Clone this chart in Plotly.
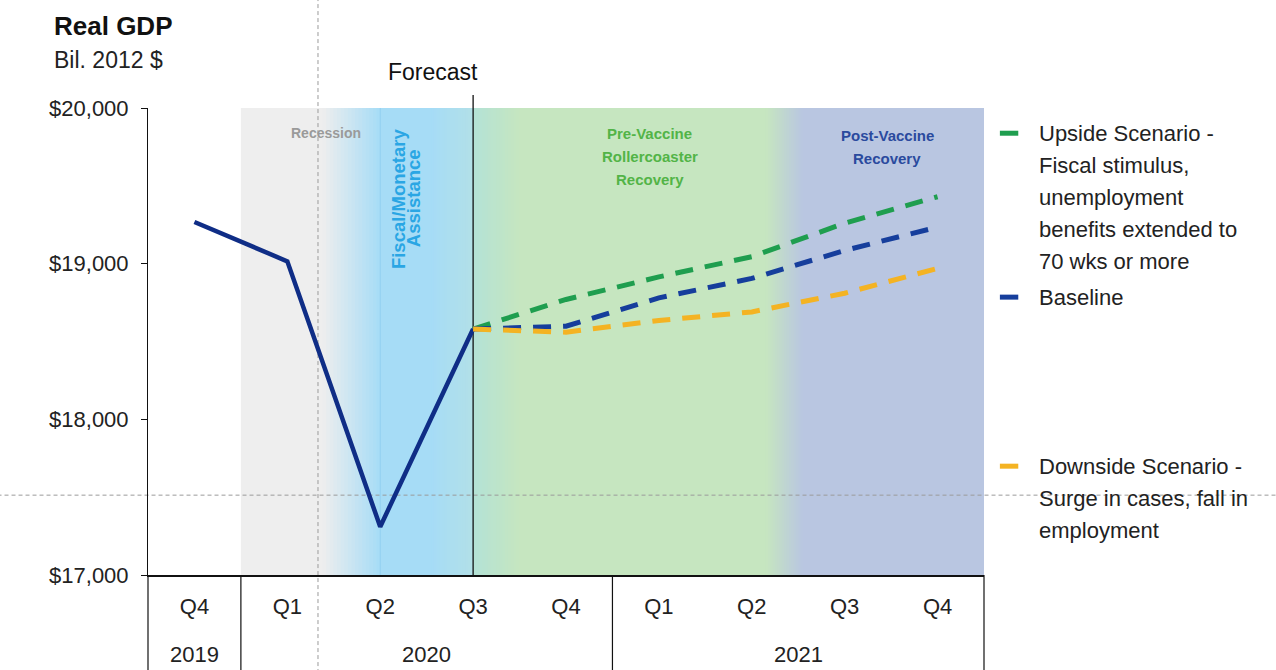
import plotly.graph_objects as go

# ---------------- data ----------------
quarters = ["Q4", "Q1", "Q2", "Q3", "Q4", "Q1", "Q2", "Q3", "Q4"]
years = ["2019", "2020", "2021"]
year_centers = [0, 2.5, 6.5]
year_dividers = [-0.5, 0.5, 4.5, 8.5]

hist_x = [0, 1, 2, 3]
hist_gdp = [19268, 19015, 17310, 18580]

fc_x = [3, 4, 5, 6, 7, 8]
upside = [18580, 18770, 18915, 19045, 19260, 19430]
baseline = [18580, 18598, 18780, 18905, 19085, 19235]
downside = [18580, 18560, 18635, 18690, 18810, 18970]

yticks = [17000, 18000, 19000, 20000]
yticklabels = ["${:,}".format(v) for v in yticks]

FONT = "Liberation Sans, Arial, sans-serif"
NAVY = "#0f2d86"
GREEN = "#1f9e4f"
BLUE = "#163e9c"
ORANGE = "#f4b323"

X0, X1 = -0.5, 8.5


def px(xd):
    return (xd - X0) / (X1 - X0)


fig = go.Figure()
fig.add_trace(go.Scatter(x=hist_x, y=hist_gdp, mode="lines",
                         line=dict(color=NAVY, width=4.5), showlegend=False))
for ys, c in [(upside, GREEN), (baseline, BLUE), (downside, ORANGE)]:
    fig.add_trace(go.Scatter(x=fc_x, y=ys, mode="lines",
                             line=dict(color=c, width=5, dash="18px,12px"),
                             showlegend=False))

# ---------------- background gradient bands ----------------
def hex2rgb(h):
    h = h.lstrip("#")
    return tuple(int(h[i:i + 2], 16) for i in (0, 2, 4))


def band(stops, n=16):
    shapes = []
    xend = stops[-1][0]
    for (xa, ca), (xb, cb) in zip(stops[:-1], stops[1:]):
        if ca == cb:
            shapes.append(dict(type="rect", xref="x", yref="paper", x0=xa, x1=xend,
                               y0=0, y1=1, fillcolor=ca, line_width=0, layer="below"))
            continue
        ra, rb = hex2rgb(ca), hex2rgb(cb)
        for i in range(n):
            t = (i + 0.5) / n
            col = "rgb(%d,%d,%d)" % tuple(round(a + (b - a) * t) for a, b in zip(ra, rb))
            x0 = xa + (xb - xa) * i / n
            shapes.append(dict(type="rect", xref="x", yref="paper", x0=x0, x1=xend,
                               y0=0, y1=1, fillcolor=col, line_width=0, layer="below"))
    return shapes


GRAY_BG = "#eeeeee"
BLUE_BG = "#a6dcf6"
TEAL_BG = "#b2e0e8"
TEAL2_BG = "#b3e2d6"
GREEN_BG = "#c6e6c0"
SLATE_BG = "#b9c6e1"

shapes = []
shapes += band([(0.5, GRAY_BG), (1.38, GRAY_BG), (2.0, BLUE_BG), (2.55, BLUE_BG), (3.0, TEAL_BG)])
shapes += band([(3.0, TEAL2_BG), (3.5, GREEN_BG), (6.15, GREEN_BG), (6.55, SLATE_BG), (8.5, SLATE_BG)])
shapes.append(dict(type="line", xref="x", yref="paper", x0=2.0, x1=2.0, y0=0, y1=1,
                   line=dict(color="#92d0f0", width=1), layer="below"))

# guide dashed lines (full page)
shapes.append(dict(type="line", xref="paper", yref="paper", x0=px(1.33), x1=px(1.33),
                   y0=-0.21, y1=1.24, line=dict(color="#9a9a9a", width=1, dash="4px,3px"),
                   layer="below"))
shapes.append(dict(type="line", xref="paper", yref="paper", x0=-0.18, x1=1.36,
                   y0=0.171, y1=0.171, line=dict(color="#9a9a9a", width=1, dash="4px,3px"),
                   layer="below"))
# forecast line
shapes.append(dict(type="line", xref="paper", yref="paper", x0=px(3), x1=px(3),
                   y0=0, y1=1.028, line=dict(color="#111111", width=1.3), layer="below"))
# x-axis table dividers
for d in year_dividers:
    shapes.append(dict(type="line", xref="paper", yref="paper", x0=px(d), x1=px(d),
                       y0=-0.21, y1=0, line=dict(color="#111111", width=1.2)))

# legend markers
leg_y = [0.946, 0.595, 0.233]
for c, yy in zip([GREEN, BLUE, ORANGE], leg_y):
    shapes.append(dict(type="line", xref="paper", yref="paper", x0=1.019, x1=1.041,
                       y0=yy, y1=yy, line=dict(color=c, width=5)))

annotations = []


def txt(text, x, y, size, color="#222222", bold=False, family=FONT, xanchor="center",
        angle=0):
    t = "<b>%s</b>" % text if bold else text
    annotations.append(dict(text=t, x=x, y=y, xref="paper", yref="paper", showarrow=False,
                            xanchor=xanchor, yanchor="middle", textangle=angle,
                            font=dict(size=size, color=color, family=family)))


# title
txt("Real GDP", -0.1148, 1.176, 26, "#111111", bold=True, xanchor="left")
txt("Bil. 2012 $", -0.1148, 1.103, 23, "#222222", xanchor="left")
txt("Forecast", 0.341, 1.077, 23, "#111111")

# years
for yl, yc in zip(years, year_centers):
    txt(yl, px(yc), -0.171, 22, "#222222")

# region labels
txt("Recession", 0.213, 0.946, 14, "#9a9a9a", bold=True)
txt("Fiscal/Monetary", 0.299, 0.807, 18.5, "#2aa6e4", bold=True, angle=-90)
txt("Assistance", 0.317, 0.807, 18.5, "#2aa6e4", bold=True, angle=-90)
for i, line in enumerate(["Pre-Vaccine", "Rollercoaster", "Recovery"]):
    txt(line, 0.600, 0.946 - i * 0.0493, 15, "#52b447", bold=True)
for i, line in enumerate(["Post-Vaccine", "Recovery"]):
    txt(line, 0.884, 0.942 - i * 0.0493, 15, "#2a4a9e", bold=True)

# legend text
LX = 1.0634
up_lines = ["Upside Scenario -", "Fiscal stimulus,", "unemployment",
            "benefits extended to", "70 wks or more"]
for i, line in enumerate(up_lines):
    txt(line, LX, 0.946 - i * 0.0685, 22, "#222222", xanchor="left")
txt("Baseline", LX, 0.595, 22, "#222222", xanchor="left")
for i, line in enumerate(["Downside Scenario -", "Surge in cases, fall in", "employment"]):
    txt(line, LX, 0.233 - i * 0.0685, 22, "#222222", xanchor="left")

fig.update_layout(
    width=1276, height=670,
    margin=dict(l=148, r=292, t=108, b=95),
    paper_bgcolor="white", plot_bgcolor="white",
    shapes=shapes, annotations=annotations, showlegend=False,
    xaxis=dict(range=[X0, X1], tickmode="array", tickvals=list(range(9)), ticktext=quarters,
               showgrid=False, zeroline=False, showline=True, linecolor="#111111",
               linewidth=1.5, ticks="", ticklabelstandoff=11,
               tickfont=dict(family=FONT, size=22, color="#222222"), fixedrange=True),
    yaxis=dict(range=[17000, 20000], tickmode="array", tickvals=yticks,
               ticktext=yticklabels, showgrid=False, zeroline=False, showline=True,
               linecolor="#111111", linewidth=1, ticks="outside", ticklen=6,
               tickcolor="#111111", ticklabelstandoff=8,
               tickfont=dict(family=FONT, size=22, color="#222222"), fixedrange=True),
)

fig.write_html("out.html")
